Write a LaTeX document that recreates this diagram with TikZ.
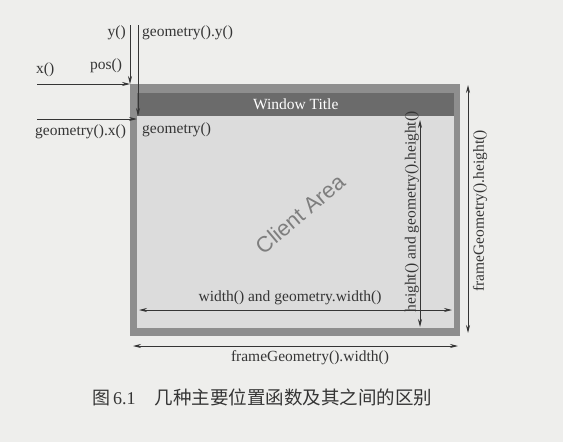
\documentclass[tikz,border=0pt]{standalone}
\usepackage{fontspec}
\setmainfont{Liberation Serif}
\newfontfamily\cjkfont{Noto Sans CJK SC}
\newfontfamily\labelsans{Liberation Sans}
\usetikzlibrary{arrows.meta}

\definecolor{paper}{HTML}{EEEEEC}
\definecolor{framegray}{HTML}{8E8E8E}
\definecolor{titlegray}{HTML}{6B6B6B}
\definecolor{clientgray}{HTML}{DCDCDC}
\definecolor{inkgray}{HTML}{353535}
\definecolor{watermark}{HTML}{7E7E7E}

\tikzset{
  arr/.style={draw=inkgray, line width=0.8pt, -{Stealth[length=8pt,width=4pt]}},
  dbl/.style={draw=inkgray, line width=0.8pt, {Stealth[length=8pt,width=4pt]}-{Stealth[length=8pt,width=4pt]}},
  lbl/.style={text=inkgray, inner sep=0pt, font=\fontsize{15.5}{18}\selectfont},
  panel/.style={anchor=north west, inner sep=0pt, draw=none}
}

\begin{document}
\begin{tikzpicture}[x=1pt,y=-1pt]
  % page
  \path[fill=paper] (0,0) rectangle (563,442);
  \useasboundingbox (0,0) rectangle (563,442);

  % window: frame, title bar, client area
  \node[panel, fill=framegray, minimum width=330pt, minimum height=252pt] (frame) at (130,84) {};
  \node[panel, fill=titlegray, minimum width=317pt, minimum height=23pt,
        text=white, font=\fontsize{15.5}{18}\selectfont] (title) at (137,93) {Window Title};
  \node[panel, fill=clientgray, minimum width=317pt, minimum height=212pt] (client) at (137,116) {};

  \node[text=watermark, rotate=40, inner sep=0pt, font=\labelsans\fontsize{22}{25}\selectfont] (area) at (300,214) {Client Area};

  % free ends of the position arrows
  \coordinate (ytop)   at (130,25);
  \coordinate (gytop)  at (138,25);
  \coordinate (gyend)  at (138,116);
  \coordinate (xleft)  at (37,84);
  \coordinate (gxleft) at (37,119);
  \coordinate (gxend)  at (137,119);

  \draw[arr] (ytop) -- (frame.north west);
  \draw[arr] (gytop) -- (gyend);
  \draw[arr] (xleft) -- (frame.north west);
  \draw[arr] (gxleft) -- (gxend);

  % extents of client area and frame
  \coordinate (wl)  at (139,310);
  \coordinate (wr)  at (452,310);
  \coordinate (ht)  at (420,120);
  \coordinate (hb)  at (420,327);
  \coordinate (fwl) at (133,346);
  \coordinate (fwr) at (458,346);
  \coordinate (fht) at (468,85);
  \coordinate (fhb) at (468,333);

  \draw[dbl] (wl) -- (wr);
  \draw[dbl] (ht) -- (hb);
  \draw[dbl] (fwl) -- (fwr);
  \draw[dbl] (fht) -- (fhb);

  % labels
  \node[lbl, anchor=east] (ylbl) at (126,33) {y()};
  \node[lbl, anchor=west] (gylbl) at (142,33) {geometry().y()};
  \node[lbl, anchor=west] (xlbl) at (36,70) {x()};
  \node[lbl, anchor=west] (poslbl) at (90,66) {pos()};
  \node[lbl, anchor=west] (gxlbl) at (35,132) {geometry().x()};
  \node[lbl, anchor=west] (glbl) at (142,130) {geometry()};
  \node[lbl] (wlbl) at (290,298) {width() and geometry.width()};
  \node[lbl, rotate=90] (hlbl) at (412,212) {height() and geometry().height()};
  \node[lbl] (fwlbl) at (310,358) {frameGeometry().width()};
  \node[lbl, rotate=90] (fhlbl) at (480,211) {frameGeometry().height()};

  % caption
  \node[anchor=west, inner sep=0pt, text=inkgray, font=\fontsize{18}{21}\selectfont] (caption) at (92,397)
    {{\cjkfont 图}\,6.1\hspace{19pt}{\cjkfont\fontsize{18.5}{21}\selectfont 几种主要位置函数及其之间的区别}};
\end{tikzpicture}
\end{document}
